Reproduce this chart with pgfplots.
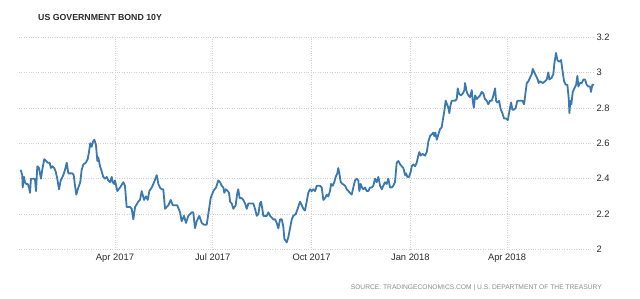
\documentclass[border=0pt]{standalone}
\usepackage{pgfplots}
\pgfplotsset{compat=1.18}
\usepackage{fontspec}
\setmainfont{Liberation Sans}
\definecolor{linec}{HTML}{3A78B2}
\definecolor{gridc}{HTML}{D0D0D0}
\definecolor{txt}{HTML}{2A2A2A}
\definecolor{src}{HTML}{8A8A8A}
\begin{document}
\begin{tikzpicture}[x=1bp,y=1bp]
\useasboundingbox (0,0) rectangle (640,298);
\node[anchor=base west,inner sep=0,text=txt,font=\fontsize{8.8}{10}\selectfont\bfseries] at (38,278) {US GOVERNMENT BOND 10Y};
\node[anchor=base east,inner sep=0,text=src,font=\fontsize{6.7}{8}\selectfont] at (602,9) {SOURCE: TRADINGECONOMICS.COM \textbar{} U.S. DEPARTMENT OF THE TREASURY};
\begin{axis}[
  at={(19bp,48.5bp)}, anchor=south west,
  scale only axis, width=575bp, height=212.5bp,
  xmin=0.65, xmax=536, ymin=2, ymax=3.2,
  axis line style={draw=none},
  tick style={draw=none},
  grid=major,
  major grid style={gridc, dotted, line width=0.6bp},
  xtick={90,181,273,365,455},
  xticklabels={Apr 2017,Jul 2017,Oct 2017,Jan 2018,Apr 2018},
  ytick={2,2.2,2.4,2.6,2.8,3,3.2},
  yticklabel pos=right,
  /pgf/number format/assume math mode=true,
  ticklabel style={font=\fontsize{9.4}{10}\selectfont, text=txt},
  xticklabel style={yshift=-1bp},
  yticklabel style={anchor=west, xshift=-1bp},
]
\addplot[linec, line width=1.8bp, line join=round] coordinates {
(2.2,2.45)(3.7,2.42)(4.1,2.35)(5.3,2.41)(6.2,2.38)(7.4,2.37)(8.8,2.37)(10,2.35)(10.9,2.32)(11.8,2.40)(14,2.40)(15.5,2.40)(16.5,2.33)(17.7,2.47)(19.3,2.46)(21.1,2.40)(22.3,2.45)(24.2,2.51)(25.8,2.50)(27.4,2.49)(29.2,2.49)(30.4,2.46)(31.7,2.47)(33.5,2.46)(34.8,2.44)(36.3,2.40)(37.9,2.34)(39.5,2.39)(41.9,2.42)(43.5,2.45)(45.1,2.49)(46.6,2.43)(48.1,2.43)(50.3,2.43)(51.6,2.42)(52.8,2.36)(54,2.31)(55.9,2.35)(57.7,2.38)(59,2.45)(60.5,2.48)(62.8,2.49)(64.6,2.51)(65.8,2.55)(67,2.60)(68.3,2.58)(69.6,2.61)(70.8,2.62)(72.3,2.59)(73.6,2.50)(74.5,2.52)(76.1,2.47)(77.7,2.44)(79.1,2.41)(80.7,2.40)(82.3,2.41)(83.8,2.39)(85.4,2.38)(87,2.41)(87.9,2.38)(89.4,2.37)
(90,2.39)(92.2,2.33)(94.7,2.35)(97.8,2.38)(99.3,2.36)(100.9,2.24)(104,2.24)(105.6,2.23)(107.1,2.17)(108.7,2.24)(111.7,2.27)(113.3,2.28)(114.9,2.33)(117.1,2.28)(118.9,2.30)(120.5,2.28)(122,2.33)(124.2,2.35)(126.4,2.38)(128.9,2.42)(130.4,2.37)(131.9,2.35)(133.5,2.34)(135,2.34)(136.6,2.23)(139.7,2.25)(141.9,2.28)(143.8,2.25)(146.8,2.25)(148,2.25)(150.6,2.21)(152.1,2.16)(154.3,2.19)(156.1,2.15)(158.3,2.19)(161.5,2.21)(162.9,2.21)(164.5,2.12)(166.1,2.16)(168.5,2.19)(170.8,2.15)(172.9,2.14)(175.4,2.14)(176.9,2.20)(179.1,2.29)(181.6,2.33)(184.1,2.35)(186.2,2.39)
(187.8,2.38)(189.4,2.36)(190.9,2.35)(191.8,2.32)(193.1,2.34)(195,2.33)(196.2,2.32)(197.2,2.27)(198.7,2.26)(200.2,2.23)(202.4,2.25)(203.9,2.32)(204.8,2.34)(206.1,2.29)(208,2.29)(209.5,2.28)(211.1,2.26)(212.7,2.23)(214.2,2.26)(215.7,2.26)(217.3,2.26)(218.8,2.26)(220.4,2.23)(222,2.19)(223.5,2.20)(225,2.26)(226,2.27)(227.2,2.23)(228.1,2.19)(229.7,2.19)(231.3,2.19)(232.8,2.21)(234.4,2.19)(236,2.18)(237.4,2.17)(239,2.17)(240.6,2.15)(242.1,2.12)(243.7,2.17)(245.3,2.17)(246.7,2.13)(247.7,2.06)(249,2.05)(249.9,2.04)(251.4,2.07)(253,2.12)(254.6,2.17)(256,2.19)(258.3,2.20)(260.1,2.23)(262.3,2.27)
(263.9,2.25)(265.4,2.23)(266.9,2.22)(268.5,2.27)(270,2.32)(271.6,2.34)(273.2,2.33)(274.7,2.34)(276.3,2.33)(277.9,2.36)(279.3,2.36)(280.9,2.36)(282.5,2.35)(284,2.28)(285.6,2.29)(287.2,2.31)(288.6,2.30)(290.2,2.33)(291.2,2.37)(292.7,2.36)(294.2,2.38)(295.5,2.41)(297,2.43)(297.9,2.46)(298.9,2.43)(300.2,2.38)(302,2.37)(304.2,2.36)(305.8,2.34)(307.3,2.33)(308.8,2.32)(310.4,2.31)(311.9,2.35)(313.5,2.39)(315.1,2.40)(316.6,2.39)(317.5,2.33)(318.8,2.37)(320,2.35)(321.2,2.34)(322.8,2.35)(324.4,2.33)(325.9,2.33)(327.5,2.35)(329.1,2.35)(330.5,2.36)(332.1,2.40)(333.7,2.38)(335.2,2.41)(336.8,2.36)(338.4,2.34)(339.8,2.36)(341.4,2.38)(343,2.37)(344.5,2.40)(346.1,2.35)(347.7,2.35)(349.1,2.36)(350.7,2.38)(352.3,2.49)(353.8,2.50)
(355.6,2.48)(357,2.47)(358.5,2.46)(360.1,2.42)(361,2.43)(362.2,2.41)(363.8,2.41)(365.4,2.44)(366.3,2.47)(367.8,2.48)(369.4,2.47)(370.9,2.49)(372.4,2.53)(373.4,2.55)(374.7,2.53)(376.2,2.54)(378.7,2.53)(380.3,2.55)(381.8,2.61)(383.3,2.64)(384.9,2.65)(386.4,2.66)(387.3,2.64)(388.3,2.66)(389.6,2.62)(391.1,2.65)(392.6,2.68)(394.2,2.69)(395.2,2.73)(396.6,2.78)(397.9,2.84)(399.2,2.82)(400.4,2.80)(401.3,2.77)(402.2,2.81)(403.5,2.84)(405,2.84)(406.6,2.84)(408.2,2.85)(409.1,2.91)(410.3,2.88)(412.2,2.87)(413.8,2.88)(415.3,2.90)(415.9,2.94)(417.5,2.89)(419,2.87)(420.6,2.86)(422.2,2.90)(423.1,2.84)(424.1,2.80)(425.3,2.87)(426.9,2.85)(428.3,2.86)(429.9,2.87)(431.5,2.89)(433,2.88)(434.5,2.85)(436.1,2.84)(437.6,2.82)(439.2,2.84)
(440.8,2.84)(442.3,2.87)(443.9,2.91)(444.8,2.84)(446,2.83)(447.6,2.84)(449.2,2.79)(450.7,2.77)(452.2,2.74)(454.1,2.74)(455.7,2.73)(457.2,2.78)(458.8,2.83)(460,2.79)(461.6,2.79)(463.1,2.80)(464.6,2.84)(467.1,2.84)(469.3,2.84)(470.9,2.82)(472.1,2.88)(473.4,2.94)(474.9,2.95)(476.4,2.97)(478,2.99)(479,3.02)(480.4,3.00)(482,2.98)(483.6,2.96)(484.5,2.94)(485.7,2.95)(488.3,2.94)(490.4,2.95)(492,2.96)(493.5,3.00)(494.4,2.96)(496.6,2.97)(498.1,2.99)(499.1,3.05)(500.6,3.11)(501.9,3.07)(503.7,3.06)(505.3,3.07)(506.9,3.00)(508.1,2.95)(509.7,2.93)(511.2,2.93)(512.5,2.85)(513.1,2.77)(514,2.84)(514.9,2.82)(516.2,2.89)(517.7,2.91)(519.3,2.93)(520.5,2.98)(521.4,2.92)(523,2.94)(524.6,2.94)(526.1,2.96)(527.6,2.96)(529.2,2.93)(530.7,2.92)(532.3,2.92)(533.2,2.89)(534.4,2.93)(536,2.93)
};
\end{axis}
\end{tikzpicture}
\end{document}
